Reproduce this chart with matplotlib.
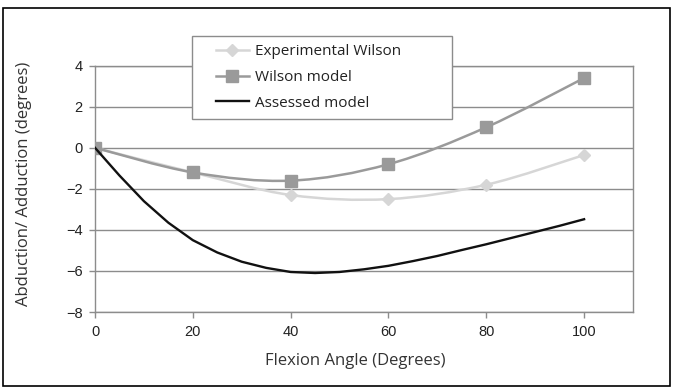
import numpy as np
import matplotlib
matplotlib.use("Agg")
import matplotlib.pyplot as plt
from matplotlib.path import Path
from matplotlib.patches import PathPatch, Rectangle
from matplotlib.lines import Line2D
from matplotlib.legend_handler import HandlerLine2D

# datos
angulo = [0, 20, 40, 60, 80, 100]
exp_wilson = [0.0, -1.2, -2.3, -2.5, -1.8, -0.35]
wilson_model = [0.0, -1.2, -1.6, -0.8, 1.0, 3.4]

angulo_ass = [0, 5, 10, 15, 20, 25, 30, 35, 40, 45, 50, 55, 60, 65, 70, 75, 80, 85, 90, 95, 100]
assessed = [0.0, -1.35, -2.6, -3.65, -4.5, -5.1, -5.55, -5.85, -6.05, -6.1, -6.05, -5.92,
            -5.75, -5.52, -5.27, -4.98, -4.7, -4.4, -4.1, -3.8, -3.48]

xticks = [0, 20, 40, 60, 80, 100]
yticks = [-8, -6, -4, -2, 0, 2, 4]

c_exp = "#d6d6d6"
c_wil = "#9a9a9a"
c_grid = "#8c8c8c"

plt.rcParams["font.family"] = ["Liberation Sans", "DejaVu Sans"]


def curva_suave(xs, ys):
    # curva Bezier tipo Excel (Catmull-Rom)
    p = np.column_stack([xs, ys]).astype(float)
    n = len(p)
    verts = [p[0]]
    codes = [Path.MOVETO]
    for i in range(n - 1):
        p0 = p[i - 1] if i > 0 else p[i]
        p3 = p[i + 2] if i + 2 < n else p[i + 1]
        c1 = p[i] + (p[i + 1] - p0) / 6.0
        c2 = p[i + 1] - (p3 - p[i]) / 6.0
        verts += [c1, c2, p[i + 1]]
        codes += [Path.CURVE4] * 3
    return Path(verts, codes)


fig = plt.figure(figsize=(6.73, 3.88), dpi=100)
ax = fig.add_axes([95 / 673, 1 - 312 / 388, 538 / 673, 246.3 / 388])

fig.patches.append(Rectangle((3 / 673, 2 / 388), 667 / 673, 378 / 388,
                             transform=fig.transFigure, fill=False,
                             edgecolor="black", linewidth=1.2))

for v in yticks:
    ax.axhline(v, color=c_grid, linewidth=1.0, zorder=1)

ax.add_patch(PathPatch(curva_suave(angulo, exp_wilson), fill=False,
                       edgecolor=c_exp, linewidth=1.8, zorder=2))
ax.plot(angulo, exp_wilson, linestyle="none", marker="D", markersize=6.5,
        color=c_exp, zorder=3)

ax.add_patch(PathPatch(curva_suave(angulo, wilson_model), fill=False,
                       edgecolor=c_wil, linewidth=1.8, zorder=4))
ax.plot(angulo, wilson_model, linestyle="none", marker="s", markersize=8,
        color=c_wil, zorder=5)

ax.plot(angulo_ass, assessed, color="#111111", linewidth=1.7, zorder=6)

ax.set_xlim(0, 110)
ax.set_ylim(-8, 4)
ax.set_xticks(xticks)
ax.set_yticks(yticks)
ax.tick_params(axis="both", direction="out", length=4, width=1, color=c_grid,
               labelsize=10.5, labelcolor="#222222", pad=5)
for s in ax.spines.values():
    s.set_color(c_grid)
    s.set_linewidth(1.0)

lab_font = dict(family=["Open Sans", "DejaVu Sans"], size=12, color="#333333")
ax.set_xlabel("Flexion Angle (Degrees)", **lab_font)
ax.xaxis.set_label_coords(0.483, -0.165)
ax.set_ylabel("Abduction/ Adduction (degrees)", **lab_font)
ax.yaxis.set_label_coords(-0.118, 0.52)

handles = [
    Line2D([], [], color=c_exp, linewidth=1.8, marker="D", markersize=6.5),
    Line2D([], [], color=c_wil, linewidth=1.8, marker="s", markersize=8),
    Line2D([], [], color="#111111", linewidth=1.7),
]
labels = ["Experimental Wilson", "Wilson model", "Assessed model"]
leg = fig.legend(handles, labels, loc="upper left", mode="expand",
                 bbox_to_anchor=(192 / 673, 1 - 120 / 388, 260 / 673, 84 / 388),
                 bbox_transform=fig.transFigure,
                 prop=dict(family=["Open Sans", "DejaVu Sans"], size=11),
                 frameon=True, fancybox=False, edgecolor=c_grid, framealpha=1,
                 handlelength=3.2, handletextpad=0.4, labelspacing=0.7,
                 borderpad=0.55, borderaxespad=0,
                 handler_map={Line2D: HandlerLine2D(xpad=1.0)})
leg.get_frame().set_linewidth(1.0)
for t in leg.get_texts():
    t.set_color("#222222")

fig.savefig("out.png", dpi=100)
